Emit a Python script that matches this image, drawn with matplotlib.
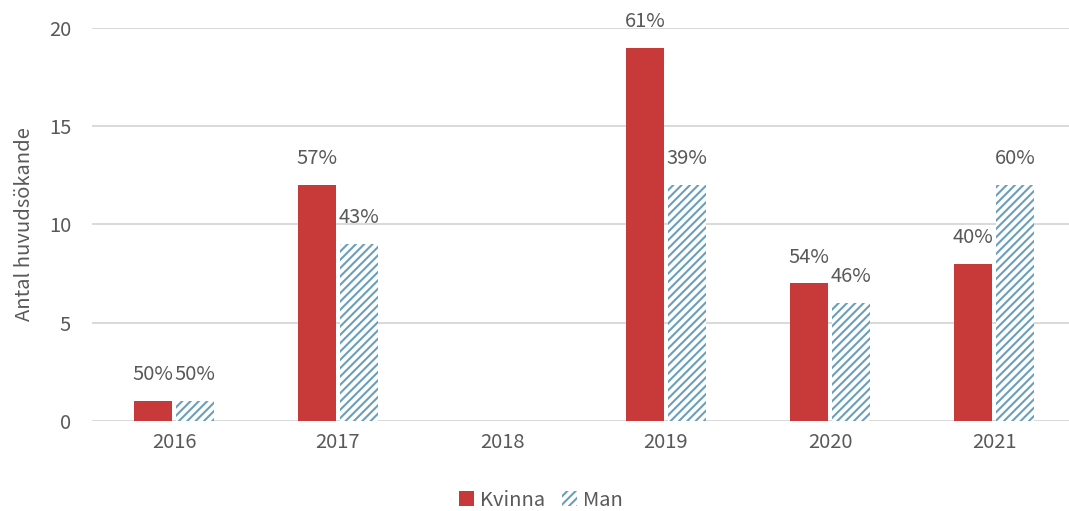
import matplotlib
matplotlib.use("Agg")
import matplotlib.pyplot as plt
import numpy as np
from matplotlib.patches import Patch

years = ["2016", "2017", "2018", "2019", "2020", "2021"]
kvinna = [1, 12, 0, 19, 7, 8]
man = [1, 9, 0, 12, 6, 12]
kvinna_pct = ["50%", "57%", "", "61%", "54%", "40%"]
man_pct = ["50%", "43%", "", "39%", "46%", "60%"]
yticks = [0, 5, 10, 15, 20]

plt.rcParams['font.family'] = ['Noto Sans CJK JP', 'DejaVu Sans']
plt.rcParams['hatch.linewidth'] = 1.5

GRAY = "#595959"
RED = "#C8393A"
BLUE = "#6A9FBB"
FS = 14.5

fig = plt.figure(figsize=(10.69, 5.11), dpi=100)
ax = fig.add_axes([92/1069, (511-421)/511, (1076-92)/1069, (421-28)/511])
x = np.arange(len(years))
w = 38/164
gap = 4/164
off = (w + gap) / 2

ax.bar(x - off, kvinna, width=w, color=RED, zorder=3, linewidth=0)
ax.bar(x + off, man, width=w, facecolor="white", edgecolor=BLUE, hatch="////", linewidth=0, zorder=3)

for i in range(len(years)):
    if kvinna_pct[i]:
        ax.annotate(kvinna_pct[i], (x[i] - off, kvinna[i]), xytext=(0, 19), textcoords="offset points",
                    ha="center", va="center", fontsize=FS, color=GRAY)
    if man_pct[i]:
        ax.annotate(man_pct[i], (x[i] + off, man[i]), xytext=(0, 19), textcoords="offset points",
                    ha="center", va="center", fontsize=FS, color=GRAY)

ax.set_xlim(-0.5, len(years) - 0.5)
ax.set_ylim(0, 20)
ax.set_yticks(yticks)
ax.set_xticks(x)
ax.set_xticklabels(years)
ax.tick_params(axis="both", length=0, colors=GRAY, labelsize=FS)
ax.tick_params(axis="y", pad=15)
ax.tick_params(axis="x", pad=8)
ax.grid(axis="y", color="#D9D9D9", linewidth=1.4, zorder=0)
ax.set_axisbelow(True)
for s in ax.spines.values():
    s.set_visible(False)
ax.set_ylabel("Antal huvudsökande", fontsize=14.5, color=GRAY)
ax.yaxis.set_label_coords(-57/984, 0.5)

handles = [Patch(facecolor=RED, linewidth=0),
           Patch(facecolor="white", edgecolor=BLUE, hatch="////", linewidth=0)]
leg = fig.legend(handles, ["Kvinna", "Man"], loc="center", bbox_to_anchor=(541/1069, 1 - 500/511),
                 ncol=2, frameon=False, fontsize=FS, handlelength=0.75, handleheight=0.75,
                 handletextpad=0.3, columnspacing=0.8)
for t in leg.get_texts():
    t.set_color(GRAY)

fig.savefig("out.png", dpi=100)
